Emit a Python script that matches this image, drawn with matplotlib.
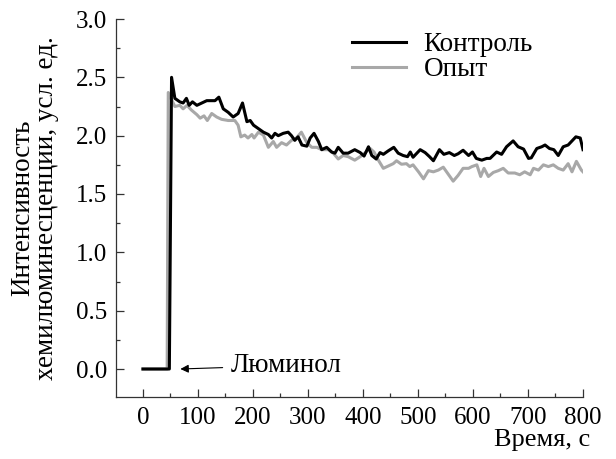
import matplotlib
matplotlib.use('Agg')
import matplotlib.pyplot as plt
from matplotlib.ticker import MultipleLocator, FormatStrFormatter

plt.rcParams['font.family'] = ['Liberation Serif', 'DejaVu Serif']
plt.rcParams['font.size'] = 18

# Контроль
ctrl_t = [0, 48, 52, 58, 67, 73, 79, 84, 90, 98, 107, 116, 131, 138, 146, 155, 164, 173, 181, 189,
          195, 201, 210, 219, 228, 234, 240, 246, 255, 264, 270, 276, 282, 289, 298, 304, 311, 319,
          325, 334, 343, 349, 355, 364, 373, 385, 395, 402, 410, 416, 424, 431, 437, 446, 456, 464,
          473, 481, 486, 491, 504, 513, 521, 528, 539, 547, 557, 566, 573, 582, 592, 599, 606, 616,
          625, 631, 643, 652, 661, 673, 682, 692, 701, 706, 716, 725, 731, 739, 747, 755, 764, 773,
          780, 787, 795, 800]
ctrl_y = [0, 0, 2.50, 2.32, 2.29, 2.28, 2.32, 2.26, 2.29, 2.26, 2.28, 2.30, 2.30, 2.33, 2.23, 2.20,
          2.16, 2.19, 2.28, 2.12, 2.13, 2.09, 2.06, 2.03, 2.01, 1.98, 2.02, 2.00, 2.02, 2.03, 2.00,
          1.96, 1.99, 1.92, 1.91, 1.98, 2.02, 1.95, 1.88, 1.90, 1.86, 1.85, 1.90, 1.85, 1.85, 1.88,
          1.855, 1.825, 1.905, 1.83, 1.80, 1.855, 1.84, 1.87, 1.90, 1.85, 1.83, 1.82, 1.86, 1.815,
          1.88, 1.855, 1.82, 1.785, 1.88, 1.84, 1.855, 1.83, 1.845, 1.875, 1.83, 1.86, 1.805, 1.79,
          1.805, 1.805, 1.86, 1.84, 1.905, 1.955, 1.905, 1.885, 1.805, 1.81, 1.89, 1.905, 1.92, 1.89,
          1.88, 1.83, 1.905, 1.92, 1.955, 1.99, 1.98, 1.88]

# Опыт
exp_t = [0, 44, 46, 58, 67, 73, 80, 88, 98, 104, 111, 117, 125, 134, 143, 155, 167, 173, 178, 185,
         191, 198, 202, 210, 219, 228, 237, 243, 252, 261, 270, 279, 288, 298, 307, 316, 325, 337,
         346, 355, 364, 373, 385, 395, 403, 413, 420, 428, 437, 446, 455, 461, 470, 479, 485, 491,
         501, 510, 519, 528, 537, 546, 555, 564, 573, 582, 592, 598, 607, 614, 620, 628, 637, 646,
         655, 664, 676, 685, 694, 704, 710, 719, 728, 737, 746, 755, 764, 773, 780, 788, 797, 800]
exp_y = [0, 0, 2.37, 2.25, 2.26, 2.23, 2.26, 2.22, 2.18, 2.15, 2.17, 2.13, 2.19, 2.16, 2.14, 2.13,
         2.13, 2.09, 1.99, 2.005, 1.98, 2.01, 1.98, 2.03, 2.005, 1.90, 1.95, 1.90, 1.94, 1.92, 1.96,
         1.98, 2.03, 1.94, 1.90, 1.90, 1.88, 1.88, 1.85, 1.80, 1.83, 1.82, 1.79, 1.82, 1.85, 1.89,
         1.86, 1.79, 1.72, 1.74, 1.76, 1.785, 1.755, 1.76, 1.735, 1.75, 1.69, 1.63, 1.70, 1.69,
         1.705, 1.73, 1.67, 1.61, 1.66, 1.72, 1.72, 1.735, 1.75, 1.65, 1.72, 1.65, 1.685, 1.70,
         1.72, 1.68, 1.68, 1.665, 1.69, 1.665, 1.72, 1.705, 1.75, 1.735, 1.75, 1.72, 1.705, 1.76,
         1.69, 1.78, 1.705, 1.69]

fig = plt.figure(figsize=(6.16, 4.59), dpi=100)
ax = fig.add_axes([116/616, 1 - 397/459, 467/616, 378/459])

ax.plot(exp_t, exp_y, color='#a8a8a8', lw=2.2, label='Опыт', zorder=2)
ax.plot(ctrl_t, ctrl_y, color='black', lw=2.2, label='Контроль', zorder=3)

ax.set_xlim(-49, 800)
ax.set_ylim(-0.24, 3.0)

for s in ['top', 'right']:
    ax.spines[s].set_visible(False)
for s in ['left', 'bottom']:
    ax.spines[s].set_linewidth(0.9)
    ax.spines[s].set_color('#333333')

ax.xaxis.set_major_locator(MultipleLocator(100))
ax.xaxis.set_minor_locator(MultipleLocator(50))
ax.yaxis.set_major_locator(MultipleLocator(0.5))
ax.yaxis.set_minor_locator(MultipleLocator(0.25))
ax.yaxis.set_major_formatter(FormatStrFormatter('%.1f'))
ax.tick_params(which='major', direction='in', length=6, width=0.9, color='#333333', labelsize=18)
ax.tick_params(which='minor', direction='in', length=3, width=0.9, color='#333333')
ax.tick_params(axis='y', pad=6.5)
ax.tick_params(axis='x', pad=7)

ax.set_ylabel('Интенсивность\nхемилюминесценции, усл. ед.', fontsize=19.5, linespacing=0.95)
ax.yaxis.set_label_coords(-0.122, 0.5)
ax.set_xlabel('Время, с', fontsize=19)
ax.xaxis.set_label_coords(1.015, -0.085)
ax.xaxis.label.set_ha('right')

ax.annotate('Люминол', xy=(68, 0), xytext=(160, 0.03), va='center', fontsize=19.5,
            arrowprops=dict(arrowstyle='-|>', color='black', lw=0.8, shrinkA=4, shrinkB=0,
                            mutation_scale=12))

h, l = ax.get_legend_handles_labels()
ax.legend(h[::-1], l[::-1], loc='upper left', bbox_to_anchor=(0.505, 0.965), frameon=False,
          borderpad=0, borderaxespad=0, handlelength=2.0, handletextpad=0.65, labelspacing=0.0,
          fontsize=19.5)

fig.savefig('out.png', dpi=100)
